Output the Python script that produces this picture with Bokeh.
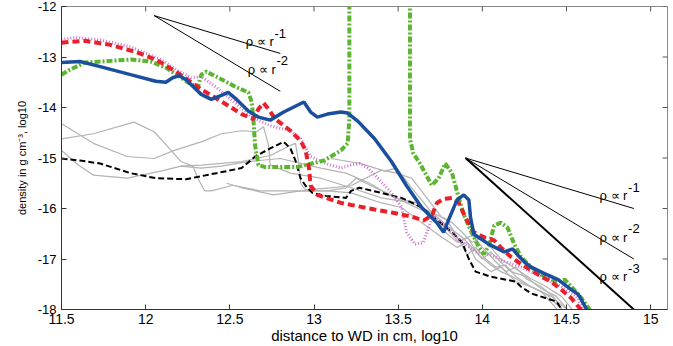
import math
from bokeh.plotting import figure
from bokeh.models import FixedTicker, Range1d
from bokeh.core.properties import value
from bokeh.embed import file_html
from bokeh.resources import INLINE

# ---- data (log10 r [cm], log10 rho [g cm^-3]) ----
blue_x = [11.5, 11.61, 11.73, 11.91, 12.06, 12.12, 12.16, 12.20, 12.24, 12.33, 12.39, 12.45, 12.49, 12.54,
          12.61, 12.67, 12.74, 12.82, 12.88, 12.94, 12.98, 13.02, 13.08, 13.16, 13.20, 13.26, 13.36, 13.46,
          13.55, 13.64, 13.73, 13.77, 13.80, 13.85, 13.89, 13.92, 13.93, 13.95, 14.04, 14.13, 14.18, 14.21,
          14.25, 14.29, 14.37, 14.45, 14.53, 14.57, 14.60, 14.63]
blue_y = [-13.11, -13.09, -13.19, -13.35, -13.48, -13.50, -13.41, -13.37, -13.45, -13.74, -13.84, -13.76, -13.70, -13.84,
          -14.07, -14.19, -14.25, -14.09, -13.99, -13.89, -14.09, -14.19, -14.13, -14.09, -14.11, -14.27, -14.62, -15.07,
          -15.55, -15.98, -16.28, -16.47, -16.22, -15.83, -15.73, -15.83, -16.18, -16.51, -16.71, -16.86, -16.80, -16.92,
          -17.06, -17.16, -17.29, -17.41, -17.61, -17.70, -17.88, -18.06]

red_x = [11.5, 11.55, 11.64, 11.79, 11.94, 12.06, 12.18, 12.33, 12.45, 12.57, 12.64, 12.67, 12.70, 12.73, 12.77,
         12.86, 12.92, 12.95, 12.97, 12.98, 13.02, 13.16, 13.36, 13.46, 13.58, 13.65, 13.70, 13.73, 13.77, 13.82,
         13.86, 13.90, 13.95, 14.01, 14.07, 14.11, 14.17, 14.23, 14.29, 14.35, 14.41, 14.47, 14.53, 14.57, 14.60]
red_y = [-12.72, -12.70, -12.68, -12.76, -12.90, -13.05, -13.29, -13.64, -13.88, -14.13, -14.23, -14.03, -13.91, -14.03, -14.23,
         -14.46, -14.66, -14.85, -15.20, -15.55, -15.73, -15.89, -16.02, -16.08, -16.16, -16.24, -16.14, -15.89, -15.81, -15.79,
         -15.89, -16.18, -16.47, -16.57, -16.63, -16.77, -16.96, -17.10, -17.22, -17.35, -17.45, -17.61, -17.78, -17.94, -18.06]

mag_x = [11.5, 11.58, 11.73, 11.91, 12.09, 12.18, 12.27, 12.33, 12.42, 12.54, 12.63, 12.74, 12.86, 12.92, 12.98,
         13.07, 13.16, 13.22, 13.27, 13.32, 13.38, 13.46, 13.52, 13.55, 13.60, 13.65, 13.68, 13.71, 13.76, 13.82,
         13.88, 13.96, 14.05, 14.14, 14.23, 14.35, 14.47, 14.56, 14.60]
mag_y = [-12.66, -12.61, -12.66, -12.80, -13.05, -13.25, -13.41, -13.39, -13.60, -13.93, -14.19, -14.36, -14.46, -14.62, -14.97,
         -15.11, -15.20, -15.14, -15.11, -15.20, -15.40, -15.69, -15.98, -16.47, -16.71, -16.67, -16.38, -16.14, -16.28, -16.47,
         -16.67, -16.86, -16.92, -17.06, -17.16, -17.35, -17.55, -17.74, -18.02]

green_x = [11.5, 11.55, 11.64, 11.73, 11.91, 12.03, 12.12, 12.21, 12.27, 12.31, 12.33, 12.36, 12.42, 12.54, 12.61,
           12.63, 12.64, 12.65, 12.67, 12.71, 12.90, 13.06, 13.16, 13.20, 13.21, 13.21, 13.57, 13.57, 13.59, 13.63,
           13.67, 13.70, 13.74, 13.78, 13.82, 13.86, 13.89, 13.93, 13.98, 14.01, 14.04, 14.07, 14.11, 14.15, 14.19,
           14.23, 14.29, 14.37, 14.45, 14.49, 14.53, 14.59, 14.65]
green_y = [-13.35, -13.25, -13.11, -13.09, -13.05, -13.09, -13.21, -13.41, -13.54, -13.60, -13.35, -13.29, -13.39, -13.60, -13.70,
           -13.89, -14.23, -14.75, -15.14, -15.18, -15.18, -15.05, -14.85, -14.71, -14.23, -11.5, -11.5, -14.62, -14.91, -15.11,
           -15.36, -15.54, -15.40, -15.11, -15.30, -15.79, -16.12, -16.43, -16.77, -16.90, -16.73, -16.34, -16.28, -16.38, -16.71,
           -16.96, -17.16, -17.35, -17.45, -17.41, -17.55, -17.78, -18.06]

black_x = [11.5, 11.61, 11.73, 11.91, 12.06, 12.24, 12.42, 12.57, 12.65, 12.74, 12.82, 12.86, 12.89, 12.92, 12.95,
           12.99, 13.07, 13.19, 13.22, 13.27, 13.40, 13.52, 13.64, 13.73, 13.82, 13.88, 13.92, 13.96, 14.05, 14.14,
           14.20, 14.23, 14.29, 14.38, 14.44, 14.48]
black_y = [-15.01, -15.05, -15.11, -15.30, -15.40, -15.42, -15.30, -15.20, -14.97, -14.81, -14.68, -14.81, -15.05, -15.40, -15.55,
           -15.69, -15.75, -15.79, -15.65, -15.59, -15.69, -15.79, -15.98, -16.22, -16.47, -16.67, -17.00, -17.25, -17.35, -17.41,
           -17.45, -17.55, -17.68, -17.78, -17.84, -18.04]

gray1_x = [11.5, 11.69, 11.89, 12.05, 12.17, 12.33, 12.45, 12.57, 12.66, 12.70, 12.73, 12.74, 12.86, 13.04, 13.22,
           13.40, 13.58, 13.70, 13.79, 13.88, 13.94, 14.0, 14.05, 14.11, 14.17, 14.26, 14.35, 14.44, 14.51]
gray1_y = [-14.32, -14.71, -14.97, -15.01, -14.85, -14.68, -14.52, -14.46, -14.48, -14.38, -14.75, -15.14, -15.30, -15.40, -15.59,
           -15.79, -15.89, -16.08, -16.34, -16.57, -16.77, -17.0, -16.86, -17.06, -17.25, -17.35, -17.59, -17.74, -18.02]
gray2_x = [11.5, 11.69, 11.93, 12.05, 12.13, 12.21, 12.28, 12.31, 12.35, 12.39, 12.52, 12.68, 12.92, 13.08, 13.22,
           13.40, 13.52, 13.64, 13.76, 13.85, 13.91, 13.96, 14.05, 14.11, 14.20, 14.29, 14.38, 14.48]
gray2_y = [-14.62, -14.52, -14.29, -14.48, -14.77, -15.07, -15.16, -15.40, -15.65, -15.65, -15.54, -15.65, -15.65, -15.65, -15.69,
           -15.89, -15.98, -16.28, -16.57, -16.77, -16.67, -17.0, -17.25, -17.16, -17.45, -17.55, -17.70, -18.02]
gray3_x = [11.5, 11.60, 11.69, 11.89, 12.09, 12.21, 12.33, 12.45, 12.61, 12.80, 13.04, 13.19, 13.33, 13.48, 13.61,
           13.70, 13.79, 13.86, 13.94, 14.0, 14.07, 14.14, 14.20, 14.26, 14.35, 14.42, 14.48]
gray3_y = [-14.85, -15.14, -15.34, -15.40, -15.26, -15.16, -15.20, -15.16, -15.07, -15.01, -15.20, -15.30, -15.50, -15.79, -15.89,
           -16.18, -16.41, -16.67, -16.53, -16.77, -17.02, -17.25, -17.16, -17.39, -17.55, -17.74, -18.02]
gray4_x = [12.21, 12.33, 12.57, 12.74, 12.86, 12.89, 12.91, 12.92, 12.95, 13.10, 13.22, 13.40, 13.49, 13.58, 13.67,
           13.76, 13.82, 13.88, 13.94, 14.0, 14.05, 14.11, 14.20, 14.29, 14.38, 14.47, 14.54]
gray4_y = [-15.16, -15.14, -15.07, -14.95, -14.75, -14.71, -15.11, -15.50, -15.63, -15.59, -15.55, -15.24, -15.30, -15.40, -15.79,
           -16.18, -16.28, -16.47, -16.67, -16.57, -16.77, -17.0, -17.20, -17.39, -17.55, -17.74, -18.02]
gray5_x = [13.10, 13.28, 13.42, 13.49, 13.58, 13.70, 13.79, 13.85, 13.91, 13.96, 14.02, 14.08, 14.14, 14.20, 14.29,
           14.41, 14.51]
gray5_y = [-15.01, -15.11, -15.26, -15.20, -15.59, -16.08, -16.22, -16.57, -16.92, -16.77, -17.0, -17.16, -17.12, -17.35, -17.55,
           -17.74, -18.02]
gray6_x = [12.48, 12.57, 12.76, 12.92, 13.08, 13.19, 13.25, 13.31, 13.43, 13.55, 13.67, 13.76, 13.85, 13.91, 13.98,
           14.05, 14.11, 14.18, 14.26, 14.35, 14.45]
gray6_y = [-15.50, -15.59, -15.73, -15.65, -15.65, -15.59, -15.40, -15.50, -15.69, -15.89, -16.08, -16.41, -16.67, -16.57, -16.92,
           -17.12, -17.25, -17.35, -17.51, -17.64, -18.02]

# power-law guide lines
guide_tl_x = [12.05, 12.80]
guide_tl_y1 = [-12.18, -12.93]
guide_tl_y2 = [-12.18, -13.68]
guide_r_x = [13.9, 14.9]
guide_r_y1 = [-15.0, -16.0]
guide_r_y2 = [-15.0, -17.0]
guide_r_y3 = [-15.0, -18.0]

label_main = ["ρ ∝ r", "ρ ∝ r", "ρ ∝ r", "ρ ∝ r", "ρ ∝ r"]
label_sup = ["-1", "-2", "-1", "-2", "-3"]
label_x = [12.595, 12.607, 14.696, 14.696, 14.696]
label_y = [-12.70, -13.24, -15.75, -16.57, -17.35]
sup_x = [12.765, 12.777, 14.866, 14.866, 14.866]
sup_y = [-12.53, -13.07, -15.58, -16.40, -17.18]

x_min, x_max = 11.5, 15.1
y_min, y_max = -18, -12
x_ticks = [11.5, 12, 12.5, 13, 13.5, 14, 14.5, 15]
x_tick_labels = ["11.5", "12", "12.5", "13", "13.5", "14", "14.5", "15"]
y_ticks = [-18, -17, -16, -15, -14, -13, -12]
y_tick_labels = ["-18", "-17", "-16", "-15", "-14", "-13", "-12"]

FONT = "Liberation Sans"

p = figure(width=673, height=346, x_range=Range1d(x_min, x_max), y_range=Range1d(y_min, y_max),
           output_backend="svg", toolbar_location=None,
           min_border_left=61, min_border_right=6, min_border_top=6, min_border_bottom=0)
p.grid.visible = False
p.outline_line_color = "#8a8a8a"
p.background_fill_color = "white"
p.border_fill_color = "white"

for ax in (p.xaxis[0], p.yaxis[0]):
    ax.major_tick_in = 5
    ax.major_tick_out = 0
    ax.minor_tick_line_color = None
    ax.axis_line_color = "#333333"
    ax.major_tick_line_color = "#333333"
    ax.major_label_text_font = FONT
    ax.major_label_text_color = "black"
    ax.axis_label_text_font = FONT
    ax.axis_label_text_font_style = "normal"
    ax.axis_label_text_color = "black"

p.xaxis.major_label_text_font_size = "14px"
p.yaxis.major_label_text_font_size = "13px"
p.xaxis.axis_label_text_font_size = "15px"
p.yaxis.axis_label_text_font_size = "11px"

p.xaxis.ticker = FixedTicker(ticks=x_ticks)
p.yaxis.ticker = FixedTicker(ticks=y_ticks)
p.xaxis.major_label_overrides = dict(zip(x_ticks, x_tick_labels))
p.yaxis.major_label_overrides = dict(zip(y_ticks, y_tick_labels))
p.xaxis.axis_label = "distance to WD in cm, log10"
p.yaxis.axis_label = "density in g cm⁻³, log10"
p.xaxis.major_label_standoff = 4
p.yaxis.major_label_standoff = 5
p.xaxis.axis_label_standoff = 0
p.yaxis.axis_label_standoff = 7

# mirrored inward ticks on the top and right frame edges
p.ray(x=x_ticks, y=[y_max] * len(x_ticks), length=5, length_units="screen",
      angle=-math.pi / 2, line_color="#555555", line_width=1)
p.ray(x=[x_max] * len(y_ticks), y=y_ticks, length=5, length_units="screen",
      angle=math.pi, line_color="#555555", line_width=1)

gray = "#b3b3b3"
for gx, gy in [(gray1_x, gray1_y), (gray2_x, gray2_y), (gray3_x, gray3_y),
               (gray4_x, gray4_y), (gray5_x, gray5_y), (gray6_x, gray6_y)]:
    p.line(gx, gy, line_color=gray, line_width=1.2)

p.line(black_x, black_y, line_color="black", line_width=2, line_dash="6 3")
p.line(mag_x, mag_y, line_color="#cf6fcf", line_width=3, line_dash="1 2")
p.line(green_x, green_y, line_color="#5cb531", line_width=4, line_dash="6 2 2 2")
p.line(red_x, red_y, line_color="#e8202a", line_width=4, line_dash="7 4")
p.line(blue_x, blue_y, line_color="#1a4f9e", line_width=3.5)

p.line(guide_tl_x, guide_tl_y1, line_color="black", line_width=1)
p.line(guide_tl_x, guide_tl_y2, line_color="black", line_width=1)
p.line(guide_r_x, guide_r_y1, line_color="black", line_width=1)
p.line(guide_r_x, guide_r_y2, line_color="black", line_width=1)
p.line(guide_r_x, guide_r_y3, line_color="black", line_width=2)

p.text(x=label_x, y=label_y, text=label_main, text_font=value(FONT), text_font_size="13px",
       text_color="black", text_baseline="alphabetic", text_align="left")
p.text(x=sup_x, y=sup_y, text=label_sup, text_font=value(FONT), text_font_size="13px",
       text_color="black", text_baseline="alphabetic", text_align="left")

open("out.html", "w").write(file_html(p, INLINE))
